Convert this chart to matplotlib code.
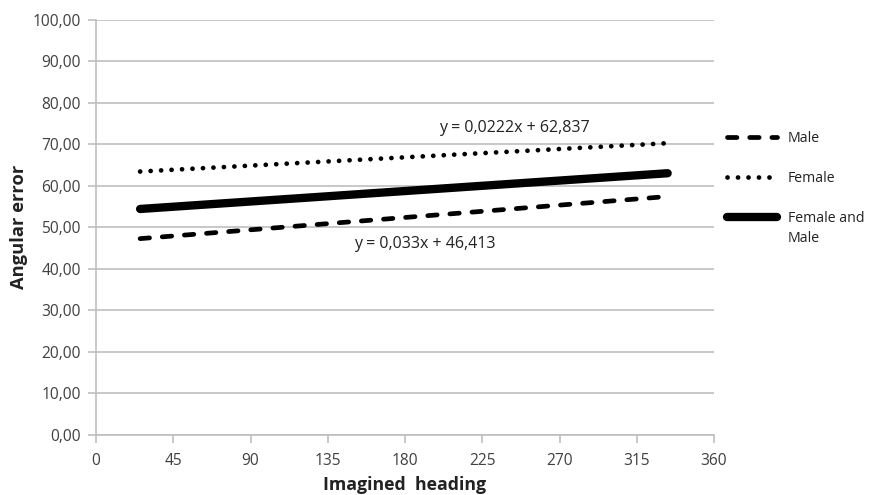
import matplotlib
matplotlib.use("Agg")
import matplotlib.pyplot as plt
import numpy as np
from matplotlib.ticker import FuncFormatter

plt.rcParams['font.family'] = ['Open Sans', 'DejaVu Sans']

# Fitted linear trends of angular error against imagined heading
heading_span = [25.7, 333.0]
male_fit = (0.033, 46.413)
female_fit = (0.0222, 62.837)
combined_values = [54.4, 63.0]

series_labels = ["Male", "Female", "Female and\nMale"]
male_eq = "y = 0,033x + 46,413"
female_eq = "y = 0,0222x + 62,837"

x_ticks = [0, 45, 90, 135, 180, 225, 270, 315, 360]
y_ticks = [0, 10, 20, 30, 40, 50, 60, 70, 80, 90, 100]

grid_col = "#BFBFBF"
text_col = "#404040"

fig = plt.figure(figsize=(8.76, 4.95), dpi=100)
ax = fig.add_axes([96 / 876, 60 / 495, 618 / 876, 415.5 / 495])

xs = np.array(heading_span)
male_y = male_fit[0] * xs + male_fit[1]
female_y = female_fit[0] * xs + female_fit[1]

ax.plot(xs, male_y, color="black", lw=3.4, dashes=(2.0, 2.7),
        dash_capstyle="round", solid_capstyle="round", label=series_labels[0])
ax.plot(xs, female_y, color="black", lw=3.4, dashes=(0.02, 2.2),
        dash_capstyle="round", label=series_labels[1])
ax.plot(xs, combined_values, color="black", lw=6.0,
        solid_capstyle="round", label=series_labels[2])

ax.text(243.5, 73.9, female_eq, ha="center", va="center", fontsize=11.5, color="#222222")
ax.text(191.6, 46.0, male_eq, ha="center", va="center", fontsize=11.5, color="#222222")

ax.set_xlim(0, 360)
ax.set_ylim(0, 100)
ax.set_xticks(x_ticks)
ax.set_yticks(y_ticks)
ax.yaxis.set_major_formatter(FuncFormatter(lambda v, p: f"{v:.2f}".replace(".", ",")))

ax.grid(axis="y", color=grid_col, lw=1.2)
ax.set_axisbelow(True)
for s in ["top", "right"]:
    ax.spines[s].set_visible(False)
for s in ["left", "bottom"]:
    ax.spines[s].set_color(grid_col)
    ax.spines[s].set_linewidth(1.2)

ax.tick_params(axis="y", direction="out", length=6, width=1.2, color=grid_col,
               labelsize=11.2, labelcolor=text_col, pad=5)
ax.tick_params(axis="x", direction="out", length=6, width=1.2, color=grid_col,
               labelsize=11.2, labelcolor=text_col, pad=7)

ax.set_xlabel("Imagined  heading", fontsize=12.8, fontweight="bold", color="#222222", labelpad=5)
ax.set_ylabel("Angular error", fontsize=13.2, fontweight="bold", color="#222222", labelpad=3)

leg = ax.legend(loc="upper left", bbox_to_anchor=(1.012, 0.745), frameon=False,
                fontsize=10.2, handlelength=3.5, handletextpad=0.8, labelspacing=1.75,
                borderaxespad=0)
for t in leg.get_texts():
    t.set_color("#222222")
    t.set_linespacing(1.5)

# raise the two-line entry's handle so it sits level with its first line
both_handle = leg.legend_handles[2]
both_handle.set_ydata(np.asarray(both_handle.get_ydata(), dtype=float) + 8.5)

fig.savefig("out.png", dpi=100)
